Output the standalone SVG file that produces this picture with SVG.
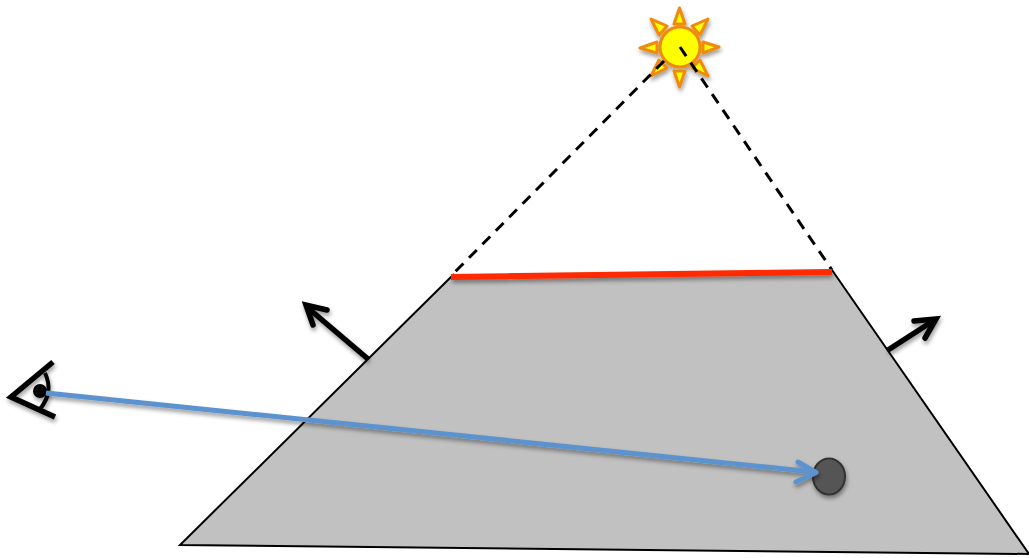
<svg xmlns="http://www.w3.org/2000/svg" width="1029" height="558" viewBox="0 0 1029 558">
<style>
.ray{fill:#ffff00;stroke:#ee8a0c;stroke-width:3;stroke-linejoin:round}
.dash{fill:none;stroke:#000;stroke-width:3;stroke-dasharray:11 8}
.bk{fill:none;stroke:#000;stroke-width:5.500;stroke-linejoin:miter}
</style>
<defs>
<filter id="sh" x="-20%" y="-20%" width="140%" height="140%"><feDropShadow dx="1" dy="3" stdDeviation="2" flood-color="#000" flood-opacity="0.4"/></filter>
<filter id="shl" x="-5%" y="-500%" width="110%" height="1100%"><feDropShadow dx="1" dy="3" stdDeviation="2" flood-color="#000" flood-opacity="0.4"/></filter>
</defs>
<g id="trapezoid"><path d="M454 274L832 270L1029 554L180 545Z" fill="#c1c1c1" stroke="none"/><path d="M454 274L180 545L1029 554L832 270" fill="none" stroke="#000" stroke-width="2"/></g>
<g id="sun" filter="url(#sh)">
<path class="ray" d="M679.500 8L674 24H685Z"/>
<path class="ray" d="M719 47L703 42V53Z"/>
<path class="ray" d="M640 48L657 42V53Z"/>
<path class="ray" d="M679.500 87L674 71H685Z"/>
<path class="ray" d="M708 19L692 26L700 35Z"/>
<path class="ray" d="M651 19L667 26L659 35Z"/>
<path class="ray" d="M651 76L659 60L667 68Z"/>
<path class="ray" d="M708 76L700 60L692 68Z"/>
<circle cx="680" cy="47" r="20" fill="#ffff00" stroke="#ee8a0c" stroke-width="3"/>
</g>
<g id="connectors">
<path class="dash" d="M664 61L453 274"/>
<path class="dash" d="M680 47L832 270"/>
<path d="M451 277L832 272" stroke="#ff2a00" stroke-width="6" fill="none" filter="url(#shl)"/>
<g filter="url(#sh)">
<path class="bk" d="M368 359L308 308"/><path class="bk" d="M313 325L306 305L327 310" stroke-linecap="round"/>
<path class="bk" d="M888 350L933 321"/><path class="bk" d="M914 321L936 319L925 338" stroke-linecap="round"/>
</g>
</g>
<g id="eye" filter="url(#sh)">
<path class="bk" d="M53 362L11 397L55 417"/>
<path d="M45 373Q54 392 40 409" fill="none" stroke="#000" stroke-width="4"/>
<circle cx="40" cy="391" r="7" fill="#000"/>
</g>
<g id="point"><ellipse cx="829" cy="476.500" rx="16" ry="18" fill="#555" stroke="#333" stroke-width="2" filter="url(#sh)"/></g>
<g id="ray" filter="url(#sh)" fill="none" stroke="#5b93cf" stroke-width="5">
<path d="M46 393L814 472"/>
<path d="M798 462L816 472.500L796 482" stroke-linecap="round" stroke-linejoin="round"/>
</g>
</svg>
